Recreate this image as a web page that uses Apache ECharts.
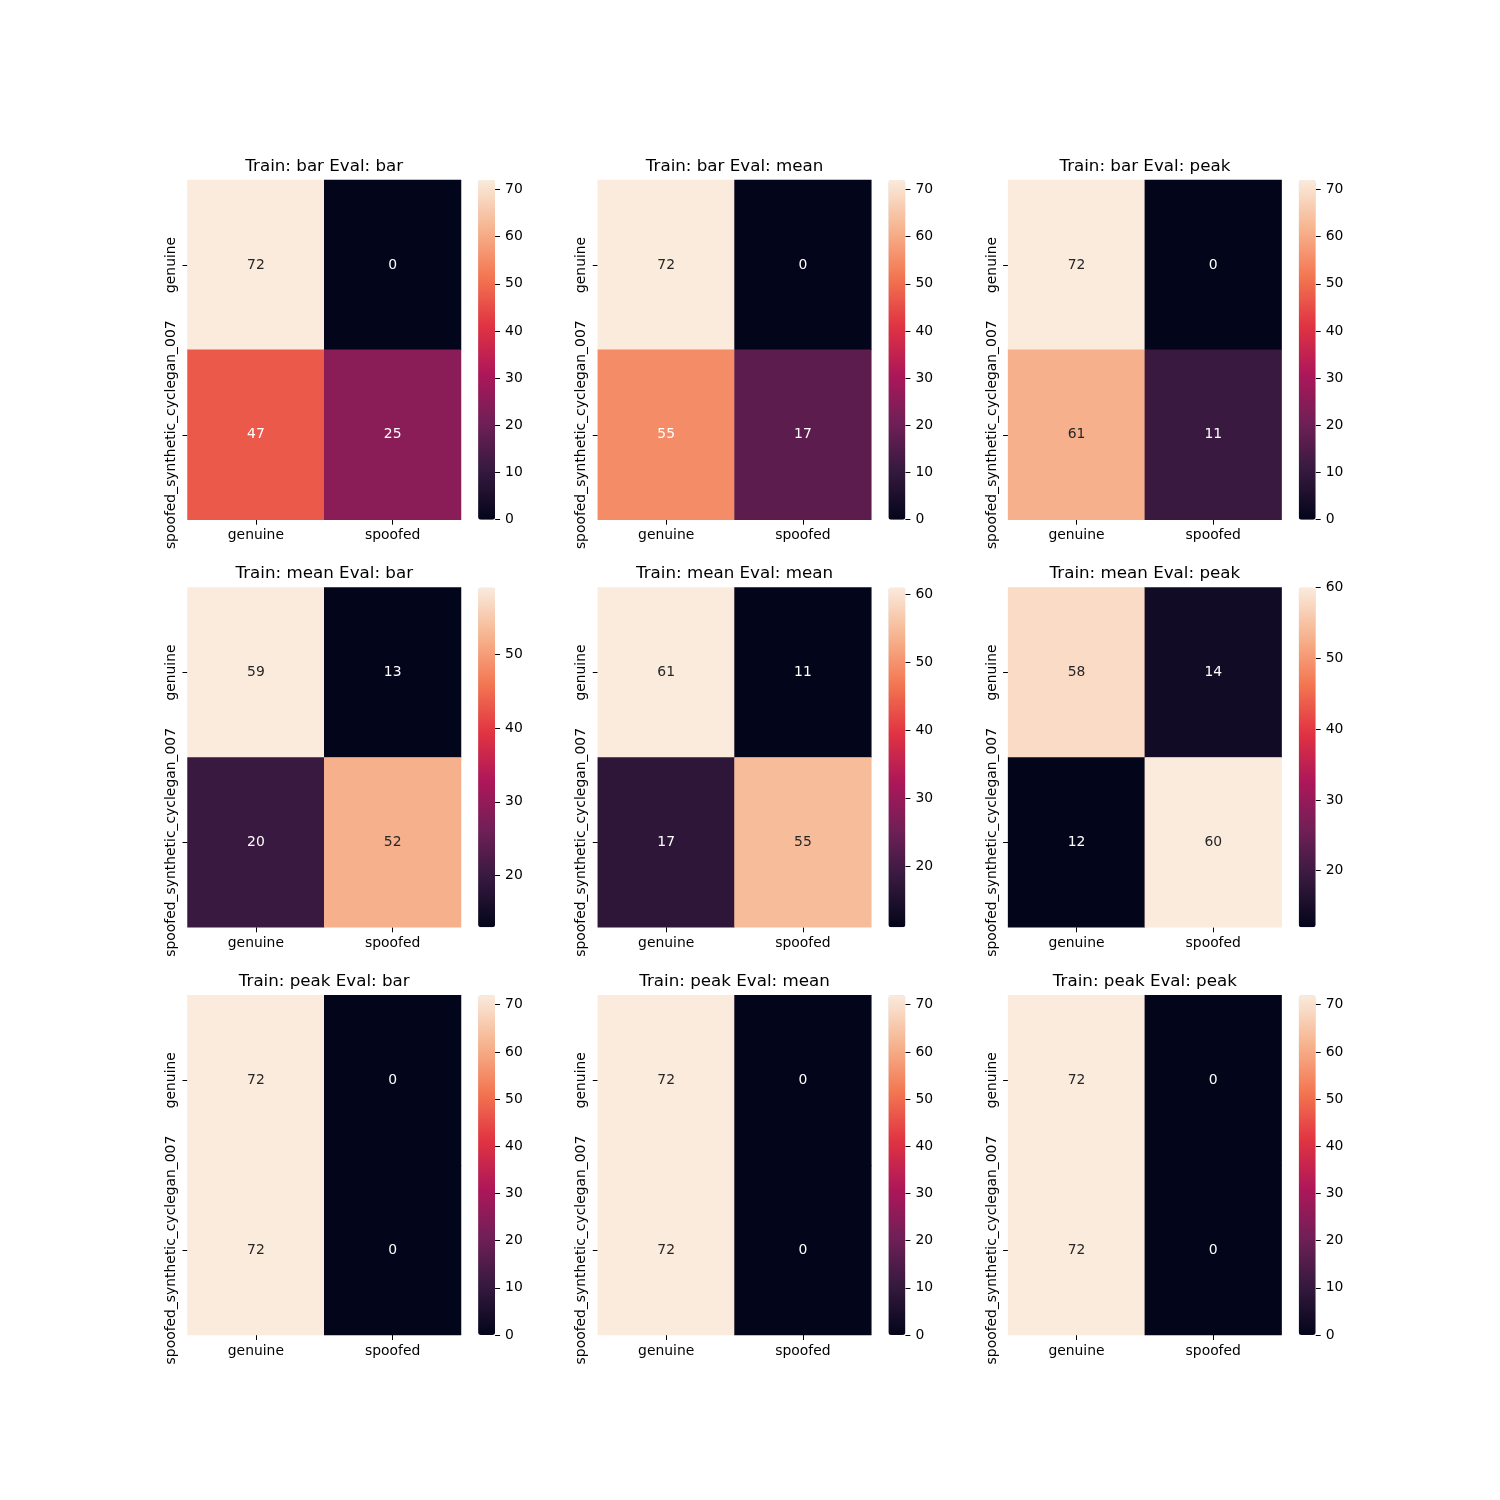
<!DOCTYPE html>
<html>
<head>
<meta charset="utf-8">
<script src="https://cdn.jsdelivr.net/npm/echarts@6/dist/echarts.min.js"></script>
<style>
  html, body { margin: 0; padding: 0; background: #fff; }
  #main { width: 1500px; height: 1500px; }
</style>
</head>
<body>
<div id="main"></div>
<script>
// categories
var xCats = ['genuine', 'spoofed'];
var yCats = ['genuine', 'spoofed_synthetic_cyclegan_007'];
var trainModes = ['bar', 'mean', 'peak'];
var evalModes = ['bar', 'mean', 'peak'];

// confusion matrices, rows = true label (yCats), cols = predicted (xCats)
var barBar   = [[72, 0], [47, 25]];
var barMean  = [[72, 0], [55, 17]];
var barPeak  = [[72, 0], [61, 11]];
var meanBar  = [[59, 13], [20, 52]];
var meanMean = [[61, 11], [17, 55]];
var meanPeak = [[58, 14], [12, 60]];
var peakBar  = [[72, 0], [72, 0]];
var peakMean = [[72, 0], [72, 0]];
var peakPeak = [[72, 0], [72, 0]];

// colorbar tick labels
var ticksFull = [0, 10, 20, 30, 40, 50, 60, 70];
var ticksMeanBar = [20, 30, 40, 50];
var ticksMeanMean = [20, 30, 40, 50, 60];
var ticksMeanPeak = [20, 30, 40, 50, 60];

var matrices = [
    [barBar, barMean, barPeak],
    [meanBar, meanMean, meanPeak],
    [peakBar, peakMean, peakPeak]
];
var cbTicks = [
    [ticksFull, ticksFull, ticksFull],
    [ticksMeanBar, ticksMeanMean, ticksMeanPeak],
    [ticksFull, ticksFull, ticksFull]
];

// seaborn "rocket"
var rocket = ['#03051a', '#35193e', '#701f57', '#ad1759', '#e13342', '#f37651', '#f6b48f', '#faebdd'];

function hexRgb(h) {
    return [parseInt(h.substr(1, 2), 16), parseInt(h.substr(3, 2), 16), parseInt(h.substr(5, 2), 16)];
}
function cmap(t) {
    t = Math.max(0, Math.min(1, t));
    var p = t * (rocket.length - 1);
    var i = Math.min(Math.floor(p), rocket.length - 2);
    var f = p - i;
    var a = hexRgb(rocket[i]), b = hexRgb(rocket[i + 1]);
    return [a[0] + (b[0] - a[0]) * f, a[1] + (b[1] - a[1]) * f, a[2] + (b[2] - a[2]) * f];
}
function lum(rgb) {
    var c = rgb.map(function (v) {
        v = v / 255;
        return v <= 0.03928 ? v / 12.92 : Math.pow((v + 0.055) / 1.055, 2.4);
    });
    return 0.2126 * c[0] + 0.7152 * c[1] + 0.0722 * c[2];
}

// layout (matplotlib 15x15in figure, 3x3 subplots + colorbars)
var colLeft = [187.5, 597.8, 1008.1];
var rowTop = [180, 587.6, 995.3];
var plotW = 273.5, plotH = 339.7;
var cbGap = 290.6, cbW = 17, tickLen = 5;
var font = 'DejaVu Sans';

var grid = [], xAxis = [], yAxis = [], series = [], visualMap = [], title = [];

function tickFilter(ticks) {
    return function (idx, val) { return ticks.indexOf(Number(val)) >= 0; };
}

for (var r = 0; r < 3; r++) {
    for (var c = 0; c < 3; c++) {
        var m = matrices[r][c];
        var flat = [m[0][0], m[0][1], m[1][0], m[1][1]];
        var vmin = Math.min.apply(null, flat);
        var vmax = Math.max.apply(null, flat);
        var gi = grid.length;

        // heatmap grid
        grid.push({ left: colLeft[c], top: rowTop[r], width: plotW, height: plotH });
        xAxis.push({
            type: 'category', gridIndex: gi, data: xCats,
            axisLine: { show: false },
            axisTick: { show: true, alignWithLabel: true, length: 5, lineStyle: { color: '#000', width: 1 } },
            axisLabel: { color: '#000', fontSize: 13.9, fontFamily: font, margin: 9, interval: 0 },
            splitArea: { show: false }, splitLine: { show: false }
        });
        yAxis.push({
            type: 'category', gridIndex: gi, data: yCats, inverse: true,
            axisLine: { show: false },
            axisTick: { show: true, alignWithLabel: true, length: 5, lineStyle: { color: '#000', width: 1 } },
            axisLabel: { color: '#000', fontSize: 13.9, fontFamily: font, margin: 9, rotate: 90, interval: 0 },
            splitArea: { show: false }, splitLine: { show: false }
        });

        var data = [];
        for (var i = 0; i < 2; i++) {
            for (var j = 0; j < 2; j++) {
                var v = m[i][j];
                var col = lum(cmap((v - vmin) / (vmax - vmin))) > 0.408 ? '#262626' : '#ffffff';
                data.push({ value: [j, i, v], label: { color: col } });
            }
        }
        var si = series.length;
        series.push({
            type: 'heatmap', xAxisIndex: gi, yAxisIndex: gi, data: data,
            label: { show: true, fontSize: 13.9, fontFamily: font, formatter: function (p) { return p.value[2]; } },
            itemStyle: { borderWidth: 0 },
            emphasis: { disabled: true }
        });

        visualMap.push({
            type: 'continuous', seriesIndex: si, min: vmin, max: vmax,
            calculable: false, hoverLink: false, orient: 'vertical',
            left: colLeft[c] + cbGap, top: rowTop[r], padding: 0,
            itemWidth: cbW, itemHeight: plotH,
            inRange: { color: rocket }
        });

        title.push({
            text: 'Train: ' + trainModes[r] + ' Eval: ' + evalModes[c],
            left: colLeft[c] + plotW / 2, top: rowTop[r] - 22, textAlign: 'center', padding: 0,
            textStyle: { fontSize: 16.7, fontWeight: 'normal', color: '#000', fontFamily: font }
        });

        // colorbar tick strip right of the bar: one category per integer step,
        // tick marks drawn as split lines across the thin strip
        var steps = [];
        for (var k = vmin; k <= vmax; k++) steps.push(String(k));
        var ci = grid.length;
        grid.push({ left: colLeft[c] + cbGap + cbW, top: rowTop[r], width: tickLen, height: plotH });
        xAxis.push({ type: 'value', gridIndex: ci, show: false });
        yAxis.push({
            type: 'category', gridIndex: ci, position: 'right', data: steps, boundaryGap: false,
            axisLine: { show: false, onZero: false }, axisTick: { show: false }, splitArea: { show: false },
            splitLine: { show: true, interval: tickFilter(cbTicks[r][c]), lineStyle: { color: '#000', width: 1 } },
            axisLabel: { color: '#000', fontSize: 13.9, fontFamily: font, margin: 5, interval: tickFilter(cbTicks[r][c]) }
        });
    }
}

var myChart = echarts.init(document.getElementById('main'));
myChart.setOption({
    animation: false,
    backgroundColor: '#fff',
    title: title,
    grid: grid,
    xAxis: xAxis,
    yAxis: yAxis,
    visualMap: visualMap,
    series: series
});
</script>
</body>
</html>
